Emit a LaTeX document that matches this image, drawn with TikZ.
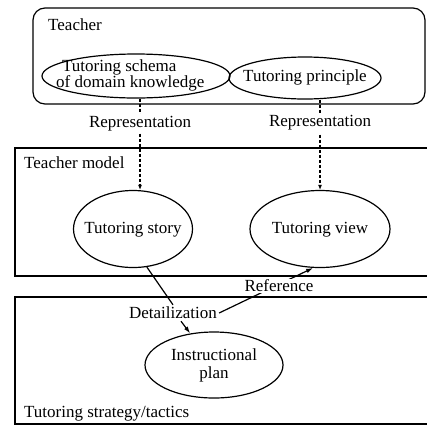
\documentclass[tikz,border=0pt]{standalone}
\usepackage{fontspec}
\setmainfont{Liberation Serif}
\usetikzlibrary{shapes.geometric,arrows.meta}
\begin{document}
\begin{tikzpicture}[x=1pt,y=-1pt,
  every node/.style={font=\fontsize{17}{19}\selectfont},
  ell/.style={draw, ellipse, line width=1.2pt, inner sep=0pt},
  txt/.style={inner sep=0pt, align=center},
  lbl/.style={inner sep=1pt, anchor=west},
  frame/.style={draw, line width=1.2pt, inner sep=0pt},
  rep/.style={line width=1.1pt, dash pattern=on 3pt off 2pt, -{Latex[length=5pt,width=4pt]}},
  arr/.style={line width=1.2pt, -{Latex[length=7pt,width=4.5pt]}},
  plainline/.style={line width=1.2pt}]
\useasboundingbox (0,0) rectangle (427,426);
\clip (0,0) rectangle (427,426);
% frames
\node[frame, rounded corners=12pt, minimum width=392pt, minimum height=96pt] (teacher) at (229,56) {};
\node[frame, minimum width=420pt, minimum height=128pt] (tmodel) at (225,212) {};
\node[frame, minimum width=420pt, minimum height=127pt] (strat) at (225,360.5) {};
\node[lbl] (teacherlbl) at (47,25) {Teacher};
\node[lbl] (tmodellbl) at (23,163) {Teacher model};
\node[lbl] (stratlbl) at (23,414) {Tutoring strategy/tactics};
% ellipses
\node[ell, minimum width=188pt, minimum height=44pt] (schema) at (136,76) {};
\node[txt, align=left, anchor=west] (schematxt) at (56,75) {\hspace*{6pt}Tutoring schema\\[-3pt]of domain knowledge};
\node[ell, minimum width=152pt, minimum height=42pt] (principle) at (305,78) {};
\node[txt] (principletxt) at (305,77) {Tutoring principle};
\node[ell, minimum width=119pt, minimum height=77pt] (story) at (133,229) {};
\node[txt] (storytxt) at (133,230) {Tutoring story};
\node[ell, minimum width=140pt, minimum height=77pt] (view) at (320,229) {};
\node[txt] (viewtxt) at (320,230) {Tutoring view};
\node[ell, minimum width=138pt, minimum height=66pt] (plan) at (214,365) {};
\node[txt] (plantxt) at (214,365) {Instructional\\[-1pt]plan};
% representation links
\coordinate (xl) at (140,0);
\coordinate (xr) at (320,0);
\draw[rep] (schema.south -| xl) -- node[fill=white, inner sep=2pt, pos=0.27] (rep1) {Representation} (story.north -| xl);
\draw[rep] (principle.south -| xr) -- node[fill=white, inner sep=2pt, pos=0.26] (rep2) {Representation} (view.north -| xr);
% detailization
\node[inner sep=2pt] (detail) at (173,313) {Detailization};
\draw[plainline] (story.-70) -- (detail.north);
\draw[arr] ([xshift=8pt]detail.south) -- (plan.127);
\draw[arr] (detail.east) -- (view.-100);
\node[fill=white, inner sep=1pt] (ref) at (279,286) {Reference};
\end{tikzpicture}
\end{document}
